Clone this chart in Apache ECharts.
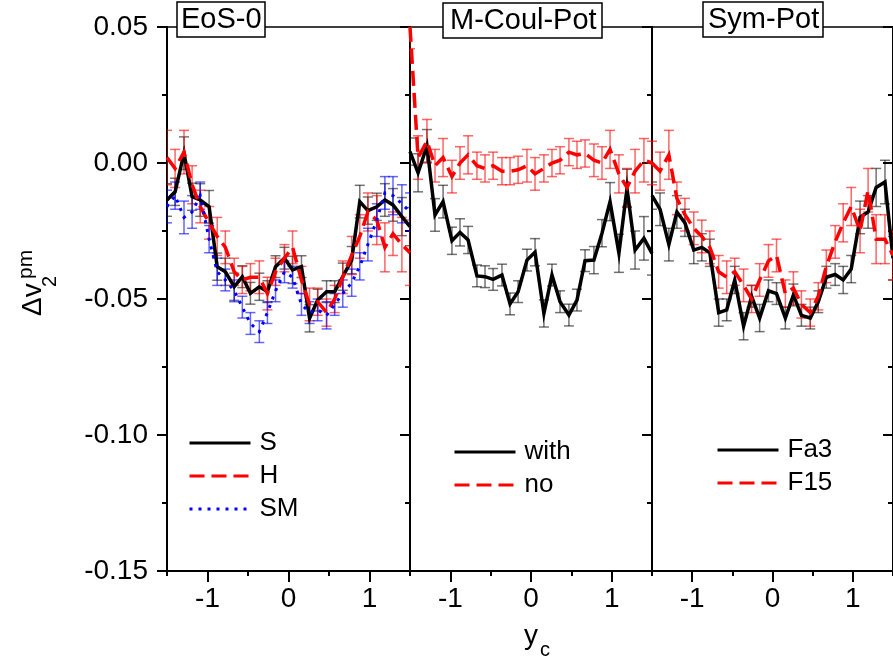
<!DOCTYPE html>
<html><head><meta charset="utf-8">
<script src="https://cdn.jsdelivr.net/npm/echarts@6/dist/echarts.min.js"></script>
<style>html,body{margin:0;padding:0;background:#fff}#c{width:893px;height:660px}</style>
</head><body><div id="c"></div>
<script>
const FONT = '"Liberation Sans", Arial, Helvetica, sans-serif';

// rapidity bins (y_c)
const yc = [-1.50,-1.40,-1.29,-1.19,-1.09,-0.98,-0.88,-0.78,-0.67,-0.57,-0.47,-0.36,-0.26,-0.16,-0.05,
             0.05, 0.16, 0.26, 0.36, 0.47, 0.57, 0.67, 0.78, 0.88, 0.98, 1.09, 1.19, 1.29, 1.40, 1.50];

// Panel 1: EoS-0
const S   = [-0.0136,-0.0106,0.0036,-0.0124,-0.0136,-0.0161,-0.0381,-0.0400,-0.0455,-0.0418,-0.0479,-0.0455,-0.0473,-0.0381,-0.0350,
             -0.0393,-0.0381,-0.0571,-0.0504,-0.0473,-0.0473,-0.0418,-0.0357,-0.0142,-0.0175,-0.0161,-0.0136,-0.0154,-0.0197,-0.0234];
const errS= [0.006,0.005,0.006,0.005,0.006,0.006,0.005,0.005,0.005,0.004,0.004,0.005,0.004,0.004,0.004,
             0.005,0.004,0.005,0.004,0.004,0.004,0.005,0.005,0.006,0.005,0.005,0.006,0.006,0.007,0.007];
const H   = [0.002,-0.002,0.004,-0.008,-0.016,-0.022,-0.027,-0.031,-0.040,-0.043,-0.042,-0.042,-0.048,-0.040,-0.035,
             -0.031,-0.043,-0.052,-0.051,-0.055,-0.050,-0.042,-0.034,-0.027,-0.018,-0.021,-0.031,-0.026,-0.030,-0.033];
const errH= [0.010,0.007,0.008,0.007,0.006,0.006,0.007,0.006,0.005,0.005,0.005,0.006,0.006,0.005,0.005,
             0.006,0.005,0.006,0.005,0.005,0.005,0.006,0.007,0.008,0.007,0.009,0.009,0.008,0.010,0.012];
const SM  = [-0.016,-0.012,-0.020,-0.018,-0.012,-0.028,-0.040,-0.043,-0.047,-0.053,-0.059,-0.062,-0.055,-0.047,-0.040,
             -0.042,-0.052,-0.055,-0.054,-0.056,-0.052,-0.048,-0.044,-0.038,-0.030,-0.021,-0.011,-0.012,-0.015,-0.018];
const errSM=[0.006,0.005,0.006,0.006,0.005,0.005,0.005,0.004,0.004,0.004,0.004,0.004,0.004,0.004,0.004,
             0.004,0.004,0.004,0.004,0.005,0.004,0.005,0.005,0.005,0.006,0.006,0.006,0.007,0.007,0.007];

// Panel 2: M-Coul-Pot
const withPot = [0.0042,-0.0036,0.0063,-0.0191,-0.0142,-0.0286,-0.0255,-0.0283,-0.0415,-0.0418,-0.0428,-0.0412,-0.0518,-0.0473,-0.0357,
                 -0.0328,-0.0553,-0.0412,-0.0510,-0.0559,-0.0504,-0.0359,-0.0357,-0.0258,-0.0142,-0.0332,-0.0093,-0.0320,-0.0277,-0.0332];
const errWith = [0.005,0.007,0.006,0.006,0.006,0.005,0.005,0.005,0.004,0.004,0.004,0.004,0.004,0.004,0.004,
                 0.005,0.005,0.004,0.004,0.004,0.004,0.004,0.005,0.005,0.007,0.007,0.007,0.007,0.008,0.008];
const noPot   = [0.050,0.002,0.008,-0.001,0.002,-0.005,0.000,0.003,-0.001,-0.002,-0.001,-0.003,-0.003,-0.0025,-0.001,
                 -0.004,-0.002,0.000,0.001,0.004,0.003,0.0035,0.001,0.000,0.005,-0.004,-0.009,-0.003,0.001,0.000];
const errNo   = [0.008,0.008,0.008,0.006,0.007,0.006,0.006,0.007,0.005,0.005,0.005,0.005,0.005,0.005,0.006,
                 0.006,0.005,0.005,0.005,0.005,0.005,0.005,0.006,0.006,0.007,0.007,0.007,0.008,0.008,0.008];

// Panel 3: Sym-Pot
const Fa3    = [-0.012,-0.017,-0.030,-0.018,-0.022,-0.032,-0.031,-0.033,-0.055,-0.054,-0.043,-0.060,-0.049,-0.057,-0.047,
                -0.048,-0.057,-0.0485,-0.056,-0.057,-0.051,-0.042,-0.041,-0.043,-0.039,-0.020,-0.018,-0.009,-0.007,-0.035];
const errFa3 = [0.005,0.006,0.006,0.006,0.005,0.005,0.005,0.005,0.005,0.004,0.005,0.005,0.004,0.005,0.004,
                0.004,0.004,0.004,0.004,0.004,0.004,0.004,0.004,0.005,0.005,0.006,0.006,0.007,0.008,0.008];
const F15    = [0.000,-0.003,0.003,-0.013,-0.019,-0.024,-0.027,-0.031,-0.040,-0.042,-0.040,-0.045,-0.050,-0.043,-0.036,
                -0.034,-0.048,-0.046,-0.052,-0.055,-0.049,-0.038,-0.029,-0.022,-0.016,-0.025,-0.010,-0.028,-0.028,-0.034];
const errF15 = [0.008,0.007,0.009,0.006,0.006,0.006,0.006,0.006,0.006,0.006,0.005,0.006,0.005,0.006,0.006,
                0.006,0.005,0.006,0.005,0.005,0.005,0.006,0.006,0.007,0.007,0.008,0.008,0.009,0.009,0.009];

const panelTitles = ['EoS-0', 'M-Coul-Pot', 'Sym-Pot'];
const xMajorTicks = [-1, 0, 1];
const xMinorTicks = [-1.5, -0.5, 0.5, 1.5];
const yMin = -0.15, yMax = 0.05, yStep = 0.05;

const seriesDefs = [
  {name:'S',    panel:0, v:S,       e:errS,    color:'#000000', bar:'rgba(0,0,0,0.55)',   type:'solid',  width:3.5},
  {name:'H',    panel:0, v:H,       e:errH,    color:'#ff0000', bar:'rgba(255,0,0,0.6)',  type:[15,7],   width:3.5},
  {name:'SM',   panel:0, v:SM,      e:errSM,   color:'#0000ff', bar:'rgba(0,0,255,0.6)',  type:[3,6],    width:3},
  {name:'with', panel:1, v:withPot, e:errWith, color:'#000000', bar:'rgba(0,0,0,0.55)',   type:'solid',  width:3.5},
  {name:'no',   panel:1, v:noPot,   e:errNo,   color:'#ff0000', bar:'rgba(255,0,0,0.6)',  type:[15,7],   width:3.5},
  {name:'Fa3',  panel:2, v:Fa3,     e:errFa3,  color:'#000000', bar:'rgba(0,0,0,0.55)',   type:'solid',  width:3.5},
  {name:'F15',  panel:2, v:F15,     e:errF15,  color:'#ff0000', bar:'rgba(255,0,0,0.6)',  type:[15,7],   width:3.5}
];

const gridBoxes = [
  {left:167, top:27, width:243, height:544},
  {left:410, top:27, width:242, height:544},
  {left:652, top:27, width:243, height:544}
];
const legendPos = [{left:188, top:430}, {left:453, top:439}, {left:716, top:437}];
const titlePos = [{left:177, top:2, padding:[3,4,3,4]}, {left:443, top:3, padding:[3,6,3,7]}, {left:703, top:2, padding:[3,4,3,5]}];

const grid = gridBoxes.map(g => Object.assign({show:true, borderColor:'#000', borderWidth:1.5, backgroundColor:'transparent', containLabel:false}, g));

const xAxis = [], yAxis = [];
gridBoxes.forEach((g, i) => {
  xAxis.push({
    type:'value', gridIndex:i, min:-1.5, max:1.5, position:'bottom',
    axisLine:{show:true, onZero:false, lineStyle:{color:'#000', width:2}},
    axisTick:{show:true, customValues:xMajorTicks, length:11, lineStyle:{color:'#000', width:2}},
    axisLabel:{show:true, customValues:xMajorTicks, fontSize:28, color:'#000', fontFamily:FONT, margin:14,
               formatter: v => String(v)},
    splitLine:{show:false}
  });
  xAxis.push({
    type:'value', gridIndex:i, min:-1.5, max:1.5, position:'bottom', offset:0,
    axisLine:{show:false, onZero:false},
    axisTick:{show:true, customValues:xMinorTicks, length:5, lineStyle:{color:'#000', width:2}},
    axisLabel:{show:false}, splitLine:{show:false}
  });
  yAxis.push({
    type:'value', gridIndex:i, min:yMin, max:yMax, interval:yStep, position:'left',
    axisLine:{show:i===0, onZero:false, lineStyle:{color:'#000', width:2}},
    axisTick:{show:i===0, length:10, lineStyle:{color:'#000', width:2}},
    minorTick:{show:i===0, splitNumber:2, length:5, lineStyle:{color:'#000', width:2}},
    axisLabel:{show:i===0, fontSize:28, color:'#000', fontFamily:FONT, margin:19, formatter: v => v.toFixed(2)},
    splitLine:{show:false}
  });
  yAxis.push({
    type:'value', gridIndex:i, min:yMin, max:yMax, interval:yStep, position:'right',
    axisLine:{show:true, onZero:false, lineStyle:{color:'#000', width:2}},
    axisTick:{show:true, inside:true, length:10, lineStyle:{color:'#000', width:2}},
    minorTick:{show:true, splitNumber:2, length:5, lineStyle:{color:'#000', width:2}},
    axisLabel:{show:false}, splitLine:{show:false}
  });
});

function makeErrRender(color) {
  return function (params, api) {
    const x = api.value(0), lo = api.value(1), hi = api.value(2);
    const p1 = api.coord([x, hi]), p2 = api.coord([x, lo]);
    const w = 5;
    const style = {stroke: color, lineWidth: 1.5, fill: null};
    return {type:'group', children:[
      {type:'line', shape:{x1:p1[0], y1:p1[1], x2:p2[0], y2:p2[1]}, style},
      {type:'line', shape:{x1:p1[0]-w, y1:p1[1], x2:p1[0]+w, y2:p1[1]}, style},
      {type:'line', shape:{x1:p2[0]-w, y1:p2[1], x2:p2[0]+w, y2:p2[1]}, style}
    ]};
  };
}

const series = [];
seriesDefs.forEach(d => {
  series.push({
    type:'custom', xAxisIndex:d.panel*2, yAxisIndex:d.panel*2, clip:true, z:2,
    renderItem: makeErrRender(d.bar),
    encode:{x:0, y:[1,2]},
    data: yc.map((x, k) => [x, d.v[k] - d.e[k], d.v[k] + d.e[k]]),
    silent:true
  });
});
seriesDefs.forEach(d => {
  series.push({
    type:'line', name:d.name, xAxisIndex:d.panel*2, yAxisIndex:d.panel*2, clip:true, z:3,
    symbol:'none', showSymbol:false,
    data: yc.map((x, k) => [x, d.v[k]]),
    lineStyle:{color:d.color, width:d.width, type:d.type, cap:'butt', join:'miter'},
    itemStyle:{color:d.color}
  });
});

const legend = gridBoxes.map((g, i) => ({
  data: seriesDefs.filter(d => d.panel === i).map(d => d.name),
  orient:'vertical', left:legendPos[i].left, top:legendPos[i].top, padding:0,
  itemWidth:61, itemHeight:14, itemGap:7, selectedMode:false,
  itemStyle:{color:'rgba(0,0,0,0)', borderColor:'rgba(0,0,0,0)', borderWidth:0},
  lineStyle:{width:3},
  textStyle:{fontSize:26, color:'#000', fontFamily:FONT, padding:[0,0,0,4]}
}));

const title = panelTitles.map((t, i) => ({
  text:t, left:titlePos[i].left, top:titlePos[i].top, padding:titlePos[i].padding,
  borderColor:'#000', borderWidth:1.5, backgroundColor:'#fff', z:10,
  textStyle:{fontSize:29, fontWeight:'normal', color:'#000', fontFamily:FONT}
}));

const graphic = [
  {type:'text', x:47, y:316, rotation:Math.PI/2, z:10,
   style:{text:'Δv', fontSize:28, fontFamily:FONT, fill:'#000', textAlign:'left', textVerticalAlign:'bottom'}},
  {type:'text', x:60, y:287, rotation:Math.PI/2, z:10,
   style:{text:'2', fontSize:20, fontFamily:FONT, fill:'#000', textAlign:'left', textVerticalAlign:'bottom'}},
  {type:'text', x:37, y:279, rotation:Math.PI/2, z:10,
   style:{text:'pm', fontSize:21, fontFamily:FONT, fill:'#000', textAlign:'left', textVerticalAlign:'bottom'}},
  {type:'text', x:524, y:650, z:10,
   style:{text:'y', fontSize:28, fontFamily:FONT, fill:'#000', textAlign:'left', textVerticalAlign:'bottom'}},
  {type:'text', x:540, y:660, z:10,
   style:{text:'c', fontSize:20, fontFamily:FONT, fill:'#000', textAlign:'left', textVerticalAlign:'bottom'}}
];

const chart = echarts.init(document.getElementById('c'), null, {renderer:'canvas'});
chart.setOption({
  animation:false, backgroundColor:'#fff',
  title, legend, grid, xAxis, yAxis, series, graphic
});
</script>
</body></html>
